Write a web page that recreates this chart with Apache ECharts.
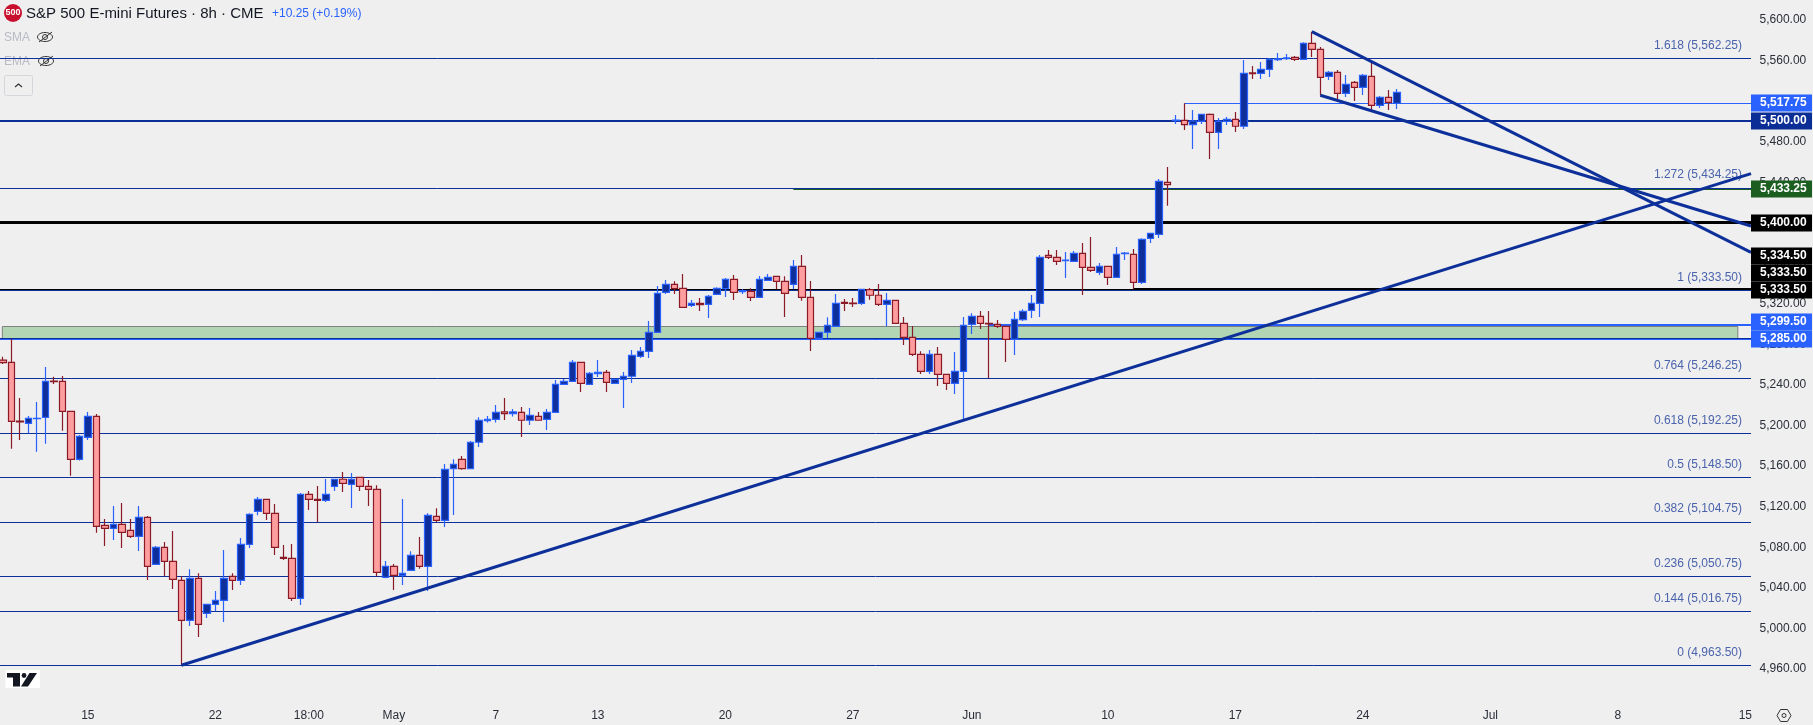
<!DOCTYPE html>
<html><head><meta charset="utf-8">
<style>html,body{margin:0;padding:0;background:#efefef}#c{width:1813px;height:725px}</style>
<script src="https://cdn.jsdelivr.net/npm/echarts@6/dist/echarts.min.js"></script>
</head><body><div id="c"></div>
<script>
const opens=[5264.6,5262.3,5204.5,5202.2,5206.8,5208.1,5243.9,5243.6,5214,5166.7,5188.4,
5209,5101.6,5098.6,5102.5,5096.6,5090.7,5109.4,5063.1,5079.9,5066,
5047.3,5007.9,5049.3,5014.8,5023.6,5027.6,5051.3,5047.3,5082.8,5115.4,
5127.2,5113.4,5070,5069,5029.6,5132.1,5127.2,5126.2,5140,5147,
5142,5148.9,5140,5137,5050.3,5061.1,5052.2,5057.2,5072,5061.1,
5110.4,5106.5,5157.5,5166.7,5157.5,5183.5,5204.8,5206.1,5213.4,5211.7,
5213,5205.2,5209.1,5206.1,5213,5240.7,5243.6,5262.4,5240.7,5251.2,
5252.5,5241.6,5245.6,5248.6,5268.3,5273.2,5291.9,5331.4,5339.3,5335.4,
5318.6,5320.6,5319.6,5329.4,5335,5344.2,5332.1,5332.4,5326.5,5343.2,
5347.2,5342.3,5339.3,5357,5326.5,5286,5291.9,5297.9,5321.6,5320.9,
5320.6,5334,5328.5,5319.6,5323.5,5300.8,5287,5270.2,5253.5,5270.2,
5250.5,5241.6,5253.5,5299.8,5307.7,5300.8,5299.8,5297.9,5285,5304.4,
5313.6,5320.6,5367.9,5365.9,5362.6,5362,5369.9,5356.1,5351.1,5357,
5346.2,5369.5,5368.9,5341.3,5384.7,5388.6,5439.9,5500.7,5501.1,5496.8,
5500.1,5507,5489.2,5500.1,5502,5495.2,5547.8,5547.4,5551.4,5560.9,
5561.9,5563.2,5561.2,5577,5571.1,5544.5,5548.4,5527.7,5538.6,5533.6,
5544.5,5515.9,5523.7,5517.8];
const highs=[5267.9,5285.4,5227.1,5209.4,5223.2,5257.7,5248.2,5248.9,5214,5190.7,5213.3,
5211.4,5107.8,5120.6,5123.6,5107.8,5120.6,5110.8,5081.2,5085.1,5096,
5051.3,5058.2,5054.2,5023.6,5036.8,5077.2,5054.2,5089.1,5113.4,5129.5,
5127.2,5122.6,5082.2,5083.2,5133.4,5135.4,5140.4,5147.3,5147.3,5154.2,
5153.2,5148.9,5146.3,5141,5066.4,5063.4,5127.5,5075.9,5090.1,5113.4,
5118.3,5162,5166.7,5170,5184.8,5208.1,5209.4,5220.3,5227.2,5216.3,
5218.3,5217.3,5213.4,5216.3,5244.9,5245.9,5264.7,5262.4,5252.8,5264.7,
5254.8,5245.9,5252.8,5274.5,5277.5,5303.1,5337.7,5343.6,5342.3,5349.5,
5323.8,5325.8,5328.8,5336.3,5345.6,5348.5,5334.7,5335.4,5347.5,5349.5,
5347.2,5347.2,5363.3,5368.2,5342.6,5291.9,5306.8,5329.8,5324.8,5325.8,
5334.4,5335.7,5339.6,5330.8,5323.5,5307.1,5298.2,5273.2,5274.5,5277.5,
5250.5,5272.5,5307.1,5310.7,5313,5313,5304.1,5297.9,5312,5314.6,
5328.8,5368.2,5373.2,5373.2,5371.2,5372.2,5380.1,5386,5360.3,5357,
5376.1,5371.2,5374.2,5384.7,5389.6,5443.2,5455,5506.3,5517.8,5511.2,
5507.3,5507.9,5503.4,5504.4,5509.3,5560.6,5554.7,5558.6,5562.6,5567.5,
5566.5,5564.5,5578,5588.5,5573.4,5549.7,5550.7,5545.8,5539.9,5546.8,
5558.6,5525.1,5531,5532];
const lows=[5260.7,5177.2,5185.7,5192.3,5174.2,5182.1,5241,5194.9,5150.5,5165.4,5185.7,
5094.3,5081.2,5087.1,5079.2,5089.1,5076.2,5047.6,5063.1,5051.3,5038.8,
4963.5,5002.3,4991.4,5010.2,5016.7,5006.2,5037.8,5042.7,5079.2,5111.4,
5106.8,5072.3,5067.4,5026.9,5023,5116.7,5104.5,5124.6,5135.4,5134.4,
5118.6,5135.4,5120.6,5051.3,5049.3,5037.8,5042.7,5057.2,5058.8,5036.8,
5104.5,5099.9,5111.75,5156.5,5157.5,5178.9,5202.9,5202.9,5205.5,5208.8,
5188.7,5200.6,5205.2,5195.6,5213,5240.7,5243.6,5233.1,5240.7,5247.9,
5233.1,5241.6,5217.3,5242,5266.6,5266.6,5291.9,5329.8,5329.8,5316.6,
5316.9,5313,5306.1,5329.4,5326.8,5323.8,5329.8,5322.9,5326.5,5343.2,
5334.4,5307.1,5334.4,5323.2,5273.6,5286,5286.4,5297.9,5313,5316.9,
5318.9,5324.2,5317.9,5297.9,5300.8,5279.5,5268.6,5250.8,5250.8,5239,
5235.1,5231.1,5206,5290.3,5295.2,5246.9,5296.2,5262.7,5269.6,5303.1,
5306.1,5307.1,5364.3,5358.4,5345.5,5362,5328.8,5351.5,5348.5,5338.6,
5346.2,5363.3,5334.7,5339.6,5380.1,5385,5416.9,5497.5,5491.5,5472.8,
5497.5,5462.9,5472.8,5496.5,5489.6,5492.5,5541.8,5541.8,5543.8,5559.6,
5560.6,5559.6,5561.2,5563.5,5525.7,5540.8,5519.2,5524.1,5520.1,5526.1,
5509.9,5513.2,5511.2,5512.2];
const closes=[5262,5204.1,5203.5,5207.1,5207.1,5243.6,5243.3,5214,5166.7,5189.4,5209,
5100.6,5098.6,5102.5,5094.6,5090.7,5109.4,5061.1,5079.9,5066,5048.3,
5007.9,5049.3,5003.9,5023.6,5027.6,5049.3,5047.3,5082.8,5112.4,5127.2,
5113.4,5079.9,5069,5029.6,5132.1,5127.2,5126.2,5132.1,5147,5143,
5147,5140,5137,5055.2,5061.1,5052.2,5054.2,5072,5061.1,5111.4,
5106.5,5156.8,5161.7,5157.5,5183.4,5205.2,5206.1,5213,5211.7,5213.4,
5205.2,5210.1,5205.2,5213,5240.7,5243.6,5262.4,5241.6,5251.5,5252.5,
5242.6,5245.6,5248.6,5269.3,5273.2,5291.9,5330.4,5339.3,5335,5316.6,
5320.6,5319.2,5327.5,5335.4,5344.2,5331.4,5333.1,5326.5,5344.2,5346.2,
5342.3,5330.4,5357,5326.5,5286,5291.9,5298.9,5320.6,5320.6,5320.2,
5334.4,5328.5,5319.6,5323.5,5300.8,5287,5270.2,5253.5,5270.2,5250.5,
5241.6,5253.5,5298.9,5307.7,5300.8,5300.2,5297.9,5285,5304.8,5312.7,
5320.6,5365.9,5365.9,5362,5363.3,5369.9,5356.1,5353.1,5357,5346.2,
5368.9,5370.2,5341.3,5383.7,5389.6,5440.9,5437.6,5501.4,5496.8,5500.4,
5507,5489.2,5500.1,5502,5495.2,5547.4,5547.1,5551.4,5561.2,5561.6,
5562.6,5561.2,5577,5571.1,5543.5,5548.4,5527.7,5536.6,5533.6,5545.5,
5515.9,5523.7,5518.8,5528.7];
const totalBars=206;
const dateTickBars=[10,25,36,46,58,70,85,100,114,130,145,160,175,190,205];
const dateTickLabels=['15','22','18:00','May','7','13','20','27','Jun','10','17','24','Jul','8','15'];
const fibValues=[5562.25,5434.25,5333.5,5246.25,5192.25,5148.5,5104.75,5050.75,5016.75,4963.5];
const fibRatios=['1.618','1.272','1','0.764','0.618','0.5','0.382','0.236','0.144','0'];
const lineValues=[5517.75,5500,5433.25,5400,5333.5,5334.5,5299.5,5285,5285];
const lineStarts=[139,0,93,0,0,133,116,0,0];
const lineColors=['#2962ff','#0b2e96','#1b5e20','#000000','#000000','#000000','#2962ff','#0b2e96','#2962ff'];
const lineWidths=[1,2,2,3,2,2,2,2,1];
const tagValues=[5517.75,5500,5433.25,5400,5334.5,5333.5,5333.5,5299.5,5285];
const tagColors=['#2962ff','#0b2e96','#1b5e20','#000000','#000000','#000000','#000000','#2962ff','#2962ff'];
const trendStarts=[[21,4963.5],[154,5588.5],[155,5525.75]];
const trendEnds=[[205,5446.7],[205,5373.7],[205,5398.5]];
const zoneBars=[0,204];
const zonePrices=[5297.5,5285];

const FONT='"Liberation Sans", Arial, sans-serif';
const INK='#2a2e39';
const categories=Array.from({length:totalBars},(_,i)=>{const k=dateTickBars.indexOf(i);return k<0?'':dateTickLabels[k];});
const candleData=opens.map((o,i)=>[o,closes[i],lows[i],highs[i]]);
const fmt=v=>v.toLocaleString('en-US',{minimumFractionDigits:2,maximumFractionDigits:2});
const RIGHT_EDGE=1751;

function crisp(y,w){return w%2===0?Math.round(y):Math.floor(y)+0.5;}

function hLine(x0,x1,y,color,w){
  const yy=crisp(y,w);
  return {type:'line',shape:{x1:x0,y1:yy,x2:x1,y2:yy},style:{stroke:color,lineWidth:w}};
}

const chart=echarts.init(document.getElementById('c'),null,{renderer:'canvas',width:1813,height:725});
chart.setOption({
  animation:false,
  backgroundColor:'#efefef',
  textStyle:{fontFamily:FONT},
  grid:{left:-1.42,width:1751,top:20.03,height:689.37,containLabel:false,outerBoundsMode:'none'},
  xAxis:{type:'category',data:categories,boundaryGap:true,
    axisLine:{show:false},axisTick:{show:false},splitLine:{show:false},
    axisLabel:{interval:0,margin:0,fontSize:12,color:INK,fontFamily:FONT,hideOverlap:false}},
  yAxis:{type:'value',position:'right',min:4920,max:5600,interval:40,scale:true,
    axisLine:{show:false},axisTick:{show:false},splitLine:{show:false},
    axisLabel:{margin:10,align:'left',fontSize:12,color:INK,fontFamily:FONT,showMinLabel:false,showMaxLabel:true,
      formatter:v=>fmt(v),padding:[0,0,1,0]}},
  series:[
    {type:'custom',name:'zone',z:1,clip:false,silent:true,data:[[zoneBars[0],zonePrices[0]]],
      renderItem:(p,api)=>{
        const a=api.coord([zoneBars[0],zonePrices[0]]),b=api.coord([zoneBars[1],zonePrices[1]]);
        return {type:'rect',shape:{x:a[0]-.5,y:Math.floor(a[1])+.5,width:b[0]-a[0]+1.5,height:Math.round(b[1]-a[1])},
          style:{fill:'#b2d6b4',stroke:'#808080',lineWidth:1}};
      }},
    {type:'custom',name:'levels',z:1,clip:false,silent:true,data:lineValues.map((v,i)=>[lineStarts[i],v]),
      renderItem:(p,api)=>{
        const i=p.dataIndex;
        const c=api.coord([lineStarts[i],lineValues[i]]);
        const x0=lineStarts[i]===0?0:c[0];
        return hLine(x0,RIGHT_EDGE,c[1],lineColors[i],lineWidths[i]);
      }},
    {type:'custom',name:'fib',z:1,clip:false,silent:true,data:fibValues.map(v=>[0,v]),
      renderItem:(p,api)=>{
        const i=p.dataIndex;
        const c=api.coord([0,fibValues[i]]);
        return {type:'group',children:[
          hLine(0,RIGHT_EDGE,c[1],'#0d2f9a',1),
          {type:'text',style:{x:1742,y:c[1]-13,text:fibRatios[i]+' ('+fmt(fibValues[i])+')',
            textAlign:'right',textVerticalAlign:'middle',fill:'#4a63ad',font:'12px '+FONT}}
        ]};
      }},
    {type:'candlestick',name:'ES',z:2,data:candleData,barWidth:7,
      itemStyle:{color:'#0e2f9b',color0:'#ff9e9f',borderColor:'#2962ff',borderColor0:'#8b1a27',borderWidth:1.2}},
    {type:'custom',name:'trends',z:3,clip:false,silent:true,data:trendStarts.map(s=>s),
      renderItem:(p,api)=>{
        const i=p.dataIndex;
        const a=api.coord(trendStarts[i]),b=api.coord(trendEnds[i]);
        const m=(b[1]-a[1])/(b[0]-a[0]);
        const yEnd=a[1]+m*(RIGHT_EDGE-a[0]);
        return {type:'line',shape:{x1:a[0],y1:a[1],x2:RIGHT_EDGE,y2:yEnd},style:{stroke:'#0d2f9a',lineWidth:3}};
      }},
    {type:'custom',name:'tags',z:10,clip:false,silent:true,data:tagValues.map(v=>[0,v]),
      renderItem:(p,api)=>{
        const ys=tagValues.map(v=>api.coord([0,v])[1]);
        for(let j=ys.length-2;j>=0;j--){ys[j]=Math.min(ys[j],ys[j+1]-17);}
        const i=p.dataIndex;
        const y=Math.round(ys[i]);
        return {type:'group',children:[
          {type:'rect',shape:{x:RIGHT_EDGE,y:y-8.5,width:61,height:17},style:{fill:tagColors[i]}},
          {type:'text',style:{x:1760,y:y,text:fmt(tagValues[i]),textVerticalAlign:'middle',fill:'#ffffff',font:'bold 12px '+FONT}}
        ]};
      }}
  ],
  graphic:{elements:[
    {type:'circle',shape:{cx:13,cy:13,r:9},style:{fill:'#c8102e'},silent:true},
    {type:'text',style:{x:13,y:13,text:'500',textAlign:'center',textVerticalAlign:'middle',fill:'#fff',font:'bold 9px '+FONT},silent:true},
    {type:'text',style:{x:26,y:14,text:'S&P 500 E-mini Futures · 8h · CME',textVerticalAlign:'middle',fill:'#131722',font:'15px '+FONT},silent:true},
    {type:'text',style:{x:272,y:14,text:'+10.25 (+0.19%)',textVerticalAlign:'middle',fill:'#2962ff',font:'12px '+FONT},silent:true},
    {type:'text',style:{x:4,y:38,text:'SMA',textVerticalAlign:'middle',fill:'#b8bac4',font:'12px '+FONT},silent:true},
    {type:'text',style:{x:4,y:62,text:'EMA',textVerticalAlign:'middle',fill:'#b8bac4',font:'12px '+FONT},silent:true},
    {type:'ellipse',shape:{cx:45,cy:37,rx:7.5,ry:4.5},style:{fill:'none',stroke:'#333',lineWidth:1},silent:true},
    {type:'circle',shape:{cx:45,cy:37,r:2.5},style:{fill:'none',stroke:'#333',lineWidth:1},silent:true},
    {type:'line',shape:{x1:39,y1:42,x2:52,y2:32},style:{stroke:'#333',lineWidth:1},silent:true},
    {type:'ellipse',shape:{cx:46,cy:61,rx:7.5,ry:4.5},style:{fill:'none',stroke:'#333',lineWidth:1},silent:true},
    {type:'circle',shape:{cx:46,cy:61,r:2.5},style:{fill:'none',stroke:'#333',lineWidth:1},silent:true},
    {type:'line',shape:{x1:40,y1:66,x2:53,y2:56},style:{stroke:'#333',lineWidth:1},silent:true},
    {type:'rect',shape:{x:4.5,y:75.5,width:28,height:20,r:2},style:{fill:'#efefef',stroke:'#d5d6dc',lineWidth:1},silent:true},
    {type:'polyline',shape:{points:[[15,87],[18.5,84],[22,87]]},style:{fill:'none',stroke:'#333',lineWidth:1.2},silent:true},
    {type:'rect',shape:{x:5.5,y:670,width:34.5,height:18},style:{fill:'#ffffff'},silent:true},
    {type:'polygon',shape:{points:[[7,673],[20,673],[20,686.5],[13,686.5],[13,677.5],[7,677.5]]},style:{fill:'#131722'},silent:true},
    {type:'circle',shape:{cx:24,cy:675.5,r:2.4},style:{fill:'#131722'},silent:true},
    {type:'polygon',shape:{points:[[29.5,673],[37,673],[28,686.5],[21,686.5]]},style:{fill:'#131722'},silent:true},
    {type:'polygon',shape:{points:[[1777,715.5],[1780.5,709.5],[1787.5,709.5],[1791,715.5],[1787.5,721.5],[1780.5,721.5]]},style:{fill:'none',stroke:'#333',lineWidth:1},silent:true},
    {type:'circle',shape:{cx:1784,cy:715.5,r:2},style:{fill:'none',stroke:'#333',lineWidth:1},silent:true}
  ]}
});
</script></body></html>
